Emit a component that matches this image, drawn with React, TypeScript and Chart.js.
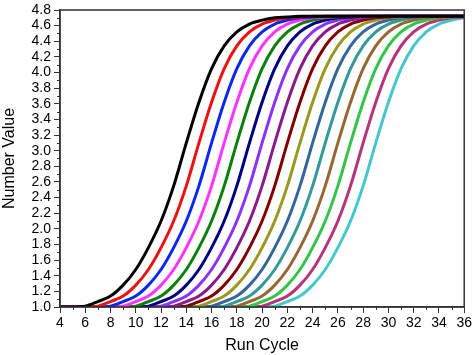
import React, { useEffect, useRef } from "react";
import { Chart, registerables } from "chart.js";

Chart.register(...registerables);

const cycles = [4,5,6,7,8,9,10,11,12,13,14,15,16,17,18,19,20,21,22,23,24,25,26,27,28,29,30,31,32,33,34,35,36];

const s01 = [1,1.00,1.01,1.07,1.14,1.28,1.48,1.76,2.1,2.55,3.1,3.62,4.05,4.34,4.52,4.62,4.67,4.7,4.71,4.72,4.72,4.72,4.72,4.72,4.72,4.72,4.72,4.72,4.72,4.72,4.72,4.72,4.72];
const s02 = [1,1,1,1.01,1.07,1.14,1.28,1.48,1.76,2.1,2.55,3.1,3.62,4.05,4.34,4.52,4.62,4.67,4.7,4.71,4.72,4.72,4.72,4.72,4.72,4.72,4.72,4.72,4.72,4.72,4.72,4.72,4.72];
const s03 = [1,1,1,1,1.01,1.07,1.14,1.28,1.48,1.76,2.1,2.55,3.1,3.62,4.05,4.34,4.52,4.62,4.67,4.7,4.71,4.72,4.72,4.72,4.72,4.72,4.72,4.72,4.72,4.72,4.72,4.72,4.72];
const s04 = [1,1,1,1,1,1.01,1.07,1.14,1.28,1.48,1.76,2.1,2.55,3.1,3.62,4.05,4.34,4.52,4.62,4.67,4.7,4.71,4.72,4.72,4.72,4.72,4.72,4.72,4.72,4.72,4.72,4.72,4.72];
const s05 = [1,1,1,1,1,1,1.01,1.07,1.14,1.28,1.48,1.76,2.1,2.55,3.1,3.62,4.05,4.34,4.52,4.62,4.67,4.7,4.71,4.72,4.72,4.72,4.72,4.72,4.72,4.72,4.72,4.72,4.72];
const s06 = [1,1,1,1,1,1,1,1.01,1.07,1.14,1.28,1.48,1.76,2.1,2.55,3.1,3.62,4.05,4.34,4.52,4.62,4.67,4.7,4.71,4.72,4.72,4.72,4.72,4.72,4.72,4.72,4.72,4.72];
const s07 = [1,1,1,1,1,1,1,1,1.01,1.07,1.14,1.28,1.48,1.76,2.1,2.55,3.1,3.62,4.05,4.34,4.52,4.62,4.67,4.7,4.71,4.72,4.72,4.72,4.72,4.72,4.72,4.72,4.72];
const s08 = [1,1,1,1,1,1,1,1,1,1.01,1.07,1.14,1.28,1.48,1.76,2.1,2.55,3.1,3.62,4.05,4.34,4.52,4.62,4.67,4.7,4.71,4.72,4.72,4.72,4.72,4.72,4.72,4.72];
const s09 = [1,1,1,1,1,1,1,1,1,1,1.01,1.07,1.14,1.28,1.48,1.76,2.1,2.55,3.1,3.62,4.05,4.34,4.52,4.62,4.67,4.7,4.71,4.72,4.72,4.72,4.72,4.72,4.72];
const s10 = [1,1,1,1,1,1,1,1,1,1,1,1.01,1.07,1.14,1.28,1.48,1.76,2.1,2.55,3.1,3.62,4.05,4.34,4.52,4.62,4.67,4.7,4.71,4.72,4.72,4.72,4.72,4.72];
const s11 = [1,1,1,1,1,1,1,1,1,1,1,1,1.01,1.07,1.14,1.28,1.48,1.76,2.1,2.55,3.1,3.62,4.05,4.34,4.52,4.62,4.67,4.7,4.71,4.72,4.72,4.72,4.72];
const s12 = [1,1,1,1,1,1,1,1,1,1,1,1,1,1.01,1.07,1.14,1.28,1.48,1.76,2.1,2.55,3.1,3.62,4.05,4.34,4.52,4.62,4.67,4.7,4.71,4.72,4.72,4.72];
const s13 = [1,1,1,1,1,1,1,1,1,1,1,1,1,1,1.01,1.07,1.14,1.28,1.48,1.76,2.1,2.55,3.1,3.62,4.05,4.34,4.52,4.62,4.67,4.7,4.71,4.72,4.72];
const s14 = [1,1,1,1,1,1,1,1,1,1,1,1,1,1,1,1.01,1.07,1.14,1.28,1.48,1.76,2.1,2.55,3.1,3.62,4.05,4.34,4.52,4.62,4.67,4.7,4.71,4.72];
const s15 = [1,1,1,1,1,1,1,1,1,1,1,1,1,1,1,1,1.01,1.07,1.14,1.28,1.48,1.76,2.1,2.55,3.1,3.62,4.05,4.34,4.52,4.62,4.67,4.7,4.71];
const s16 = [1,1,1,1,1,1,1,1,1,1,1,1,1,1,1,1,1,1.01,1.07,1.14,1.28,1.48,1.76,2.1,2.55,3.1,3.62,4.05,4.34,4.52,4.62,4.67,4.7];

const seriesValues = [s01, s02, s03, s04, s05, s06, s07, s08, s09, s10, s11, s12, s13, s14, s15, s16];
const seriesColors = [
  "#000000", "#ee1111", "#0a28ee", "#ff33ff", "#0a800a", "#000080", "#8a33ff", "#8a1a8a",
  "#800000", "#999922", "#33669c", "#339999", "#996633", "#33c44a", "#b8337a", "#44c8cc",
];

const xTicks = [4,6,8,10,12,14,16,18,20,22,24,26,28,30,32,34,36];
const yMin = 1.0;
const yMax = 4.8;

const FONT = "'Liberation Sans', Arial, sans-serif";

const framePlugin = {
  id: "frameMinor",
  afterDraw(chart: any) {
    const { ctx, chartArea } = chart;
    const xs = chart.scales.x;
    const ys = chart.scales.y;
    ctx.save();
    ctx.strokeStyle = "#333333";
    ctx.lineWidth = 1;
    ctx.beginPath();
    for (let v = 5; v < 36; v += 2) {
      const px = Math.round(xs.getPixelForValue(v)) + 0.5;
      ctx.moveTo(px, chartArea.bottom);
      ctx.lineTo(px, chartArea.bottom + 3);
    }
    for (let i = 0; i < 19; i++) {
      const v = 1.1 + i * 0.2;
      const py = Math.round(ys.getPixelForValue(v)) + 0.5;
      ctx.moveTo(chartArea.left - 3, py);
      ctx.lineTo(chartArea.left, py);
    }
    ctx.stroke();
    ctx.lineWidth = 1.5;
    ctx.strokeStyle = "#333333";
    ctx.strokeRect(chartArea.left, chartArea.top, chartArea.right - chartArea.left, chartArea.bottom - chartArea.top);
    ctx.restore();
  },
};

export default function App() {
  const ref = useRef<HTMLCanvasElement | null>(null);
  useEffect(() => {
    if (!ref.current) return;
    const datasets = seriesValues.map((vals, i) => ({
      label: "S" + (i + 1),
      data: vals.map((v, j) => ({ x: cycles[j], y: v })),
      borderColor: seriesColors[i],
      backgroundColor: seriesColors[i],
      borderWidth: 3,
      pointRadius: 0,
      cubicInterpolationMode: "monotone" as const,
      fill: false,
    }));
    const chart = new Chart(ref.current, {
      type: "line",
      data: { datasets },
      plugins: [framePlugin],
      options: {
        animation: false,
        responsive: false,
        maintainAspectRatio: false,
        layout: { padding: { top: 7, right: 8, left: 0, bottom: 0 } },
        plugins: { legend: { display: false }, tooltip: { enabled: false } },
        scales: {
          x: {
            type: "linear",
            min: 4,
            max: 36,
            afterBuildTicks: (s: any) => { s.ticks = xTicks.map((v) => ({ value: v })); },
            afterFit: (s: any) => { s.height = 48; },
            ticks: { color: "#000", font: { family: FONT, size: 14 }, padding: 2, maxRotation: 0, autoSkip: false },
            grid: { drawOnChartArea: false, drawTicks: true, tickLength: 6, color: "#333333", lineWidth: 1 },
            border: { display: true, color: "#333333", width: 1.5 },
            title: { display: true, text: "Run Cycle", color: "#000", font: { family: FONT, size: 16 }, padding: { top: 0, bottom: 0 } },
          },
          y: {
            type: "linear",
            min: yMin,
            max: yMax,
            ticks: { stepSize: 0.2, color: "#000", font: { family: FONT, size: 14, lineHeight: 1 }, padding: 3, callback: (v: any) => Number(v).toFixed(1), autoSkip: false },
            afterFit: (s: any) => { s.width = 60; },
            grid: { drawOnChartArea: false, drawTicks: true, tickLength: 6, color: "#333333", lineWidth: 1 },
            border: { display: true, color: "#333333", width: 1.5 },
            title: { display: true, text: "Number Value", color: "#000", font: { family: FONT, size: 16 }, padding: { top: 0, bottom: 0 } },
          },
        },
      },
    });
    return () => chart.destroy();
  }, []);
  return (
    <div style={{ position: "fixed", left: 0, top: 0, width: 474, height: 355, background: "#fff" }}>
      <canvas ref={ref} width={474} height={355} style={{ width: 474, height: 355 }} />
    </div>
  );
}
